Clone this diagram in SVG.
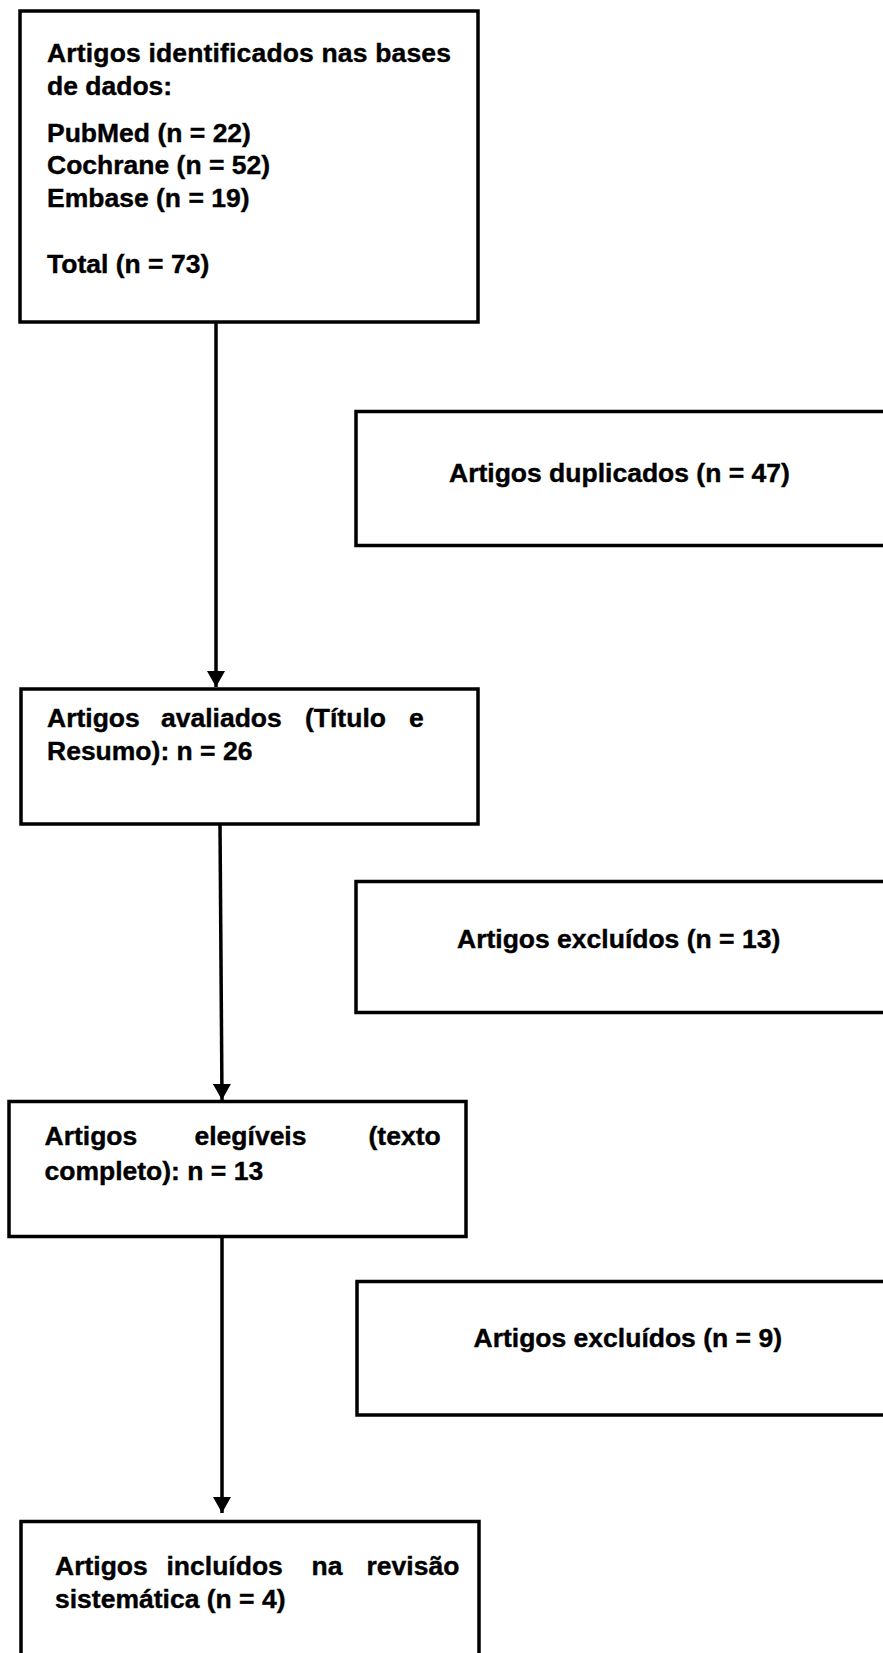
<svg xmlns="http://www.w3.org/2000/svg" width="883" height="1653" viewBox="0 0 883 1653">
<style>
.box{fill:#fff;stroke:#000;stroke-width:3.5}
.t{font-family:"Liberation Sans",Arial,sans-serif;font-weight:bold;font-size:26.5px;fill:#000;stroke:#000;stroke-width:0.4}
.c{fill:none;stroke:#000;stroke-width:3.5}
</style>
<defs>
<marker id="ah" viewBox="0 0 16 18" refX="16" refY="9" markerWidth="16" markerHeight="18" markerUnits="userSpaceOnUse" orient="auto">
<path d="M0,0 L16,9 L0,18 z" fill="#000"/>
</marker>
</defs>
<rect width="883" height="1653" fill="#fff"/>
<g id="connectors">
<path class="c" d="M216,322 L216,687" marker-end="url(#ah)"/>
<path class="c" d="M220,824 L222,1100" marker-end="url(#ah)"/>
<path class="c" d="M222,1237 L222,1513" marker-end="url(#ah)"/>
</g>
<g id="n1">
<rect class="box" x="20" y="11" width="458" height="311"/>
<text class="t" x="47" y="62" textLength="404" lengthAdjust="spacing">Artigos identificados nas bases</text>
<text class="t" x="47" y="94.5">de dados:</text>
<text class="t" x="47" y="141.5">PubMed (n = 22)</text>
<text class="t" x="47" y="174">Cochrane (n = 52)</text>
<text class="t" x="47" y="206.5">Embase (n = 19)</text>
<text class="t" x="47" y="273">Total (n = 73)</text>
</g>
<g id="n2">
<rect class="box" x="356" y="411.5" width="540" height="134"/>
<text class="t" x="449" y="481.5">Artigos duplicados (n = 47)</text>
</g>
<g id="n3">
<rect class="box" x="21" y="689" width="457" height="135"/>
<text class="t" y="726.5"><tspan x="47">Artigos</tspan><tspan x="161">avaliados</tspan><tspan x="305">(Título</tspan><tspan x="409">e</tspan></text>
<text class="t" x="47" y="760">Resumo): n = 26</text>
</g>
<g id="n4">
<rect class="box" x="356" y="881.5" width="540" height="131"/>
<text class="t" x="457" y="948">Artigos excluídos (n = 13)</text>
</g>
<g id="n5">
<rect class="box" x="9" y="1101.5" width="457" height="135"/>
<text class="t" y="1145"><tspan x="44.5">Artigos</tspan><tspan x="194.5">elegíveis</tspan><tspan x="368.5">(texto</tspan></text>
<text class="t" x="44.5" y="1180">completo): n = 13</text>
</g>
<g id="n6">
<rect class="box" x="357" y="1281.5" width="540" height="133.5"/>
<text class="t" x="473.5" y="1347">Artigos excluídos (n = 9)</text>
</g>
<g id="n7">
<rect class="box" x="21" y="1521.5" width="458" height="150"/>
<text class="t" y="1575"><tspan x="55">Artigos</tspan><tspan x="166.5">incluídos</tspan><tspan x="311.5">na</tspan><tspan x="366.5">revisão</tspan></text>
<text class="t" x="55" y="1608">sistemática (n = 4)</text>
</g>
</svg>
